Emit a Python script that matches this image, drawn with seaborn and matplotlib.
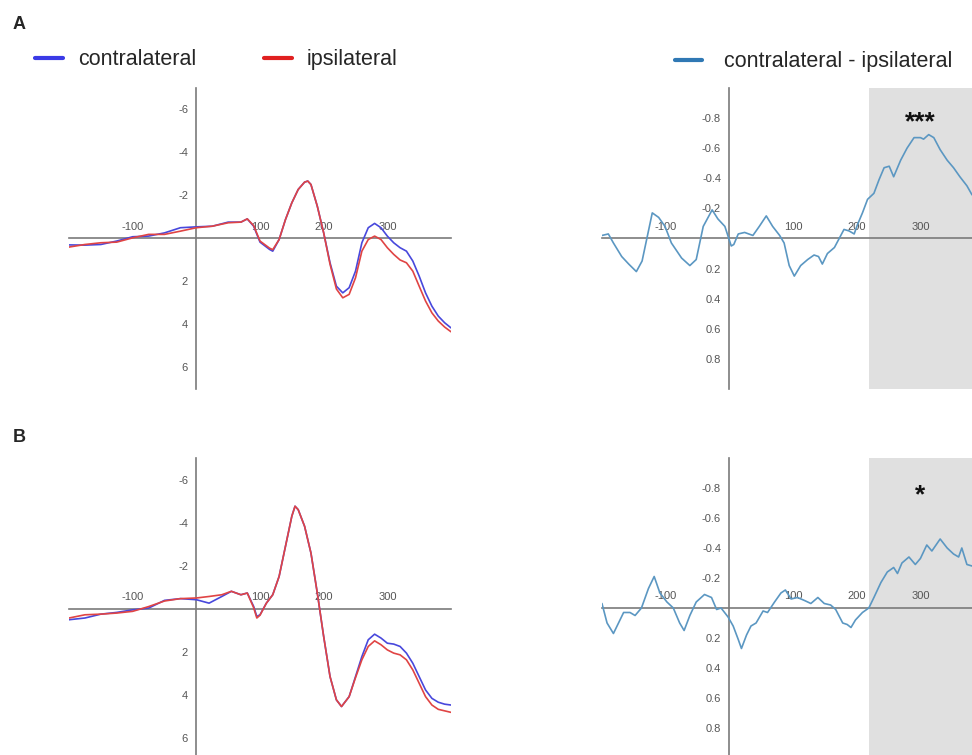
import numpy as np
import matplotlib
matplotlib.use("Agg")
import matplotlib.pyplot as plt
from matplotlib.lines import Line2D
import seaborn as sns

# ---- dados (ms, uV) ----
tempo_A = [-200, -175, -150, -125, -100, -75, -50, -25, 0, 25, 50, 70, 80, 90, 100, 115, 120,
           130, 140, 150, 160, 170, 175, 180, 190, 200, 210, 220, 230, 240, 250, 260, 270,
           280, 290, 300, 310, 320, 330, 340, 350, 360, 370, 380, 390, 400]
contra_A = [0.30, 0.31, 0.28, 0.12, -0.08, -0.11, -0.26, -0.50, -0.54, -0.57, -0.76, -0.76,
            -0.91, -0.57, 0.17, 0.51, 0.59, 0.05, -0.88, -1.66, -2.28, -2.62, -2.67, -2.51,
            -1.50, -0.26, 1.13, 2.22, 2.53, 2.29, 1.52, 0.20, -0.50, -0.70, -0.50, -0.11,
            0.20, 0.43, 0.59, 1.05, 1.75, 2.53, 3.15, 3.61, 3.92, 4.16]
ipsi_A = [0.40, 0.28, 0.20, 0.17, -0.03, -0.19, -0.19, -0.34, -0.50, -0.57, -0.73, -0.76,
          -0.91, -0.60, 0.12, 0.45, 0.52, 0.05, -0.88, -1.66, -2.28, -2.62, -2.67, -2.51,
          -1.50, -0.26, 1.20, 2.35, 2.76, 2.60, 1.83, 0.59, 0.05, -0.11, 0.05, 0.43,
          0.74, 1.00, 1.13, 1.52, 2.22, 2.91, 3.46, 3.84, 4.12, 4.34]

tempo_B = [-200, -175, -150, -125, -100, -75, -50, -25, 0, 20, 40, 55, 70, 80, 90, 95, 100,
           110, 120, 130, 140, 150, 155, 160, 170, 180, 190, 200, 210, 220, 228, 240, 250,
           260, 270, 280, 290, 300, 310, 320, 330, 340, 350, 360, 370, 380, 390, 400]
contra_B = [0.51, 0.43, 0.25, 0.17, 0.05, -0.03, -0.39, -0.47, -0.42, -0.26, -0.57, -0.81,
            -0.65, -0.73, -0.11, 0.36, 0.28, -0.26, -0.65, -1.50, -2.90, -4.30, -4.76, -4.60,
            -3.83, -2.59, -0.73, 1.29, 3.15, 4.23, 4.54, 4.08, 3.15, 2.22, 1.44, 1.18, 1.36,
            1.60, 1.64, 1.75, 2.06, 2.53, 3.15, 3.77, 4.16, 4.34, 4.43, 4.47]
ipsi_B = [0.43, 0.28, 0.25, 0.20, 0.12, -0.10, -0.36, -0.47, -0.50, -0.57, -0.65, -0.81,
          -0.65, -0.73, -0.05, 0.43, 0.30, -0.26, -0.65, -1.50, -2.90, -4.30, -4.76, -4.60,
          -3.83, -2.59, -0.73, 1.29, 3.15, 4.23, 4.54, 4.08, 3.20, 2.37, 1.75, 1.49, 1.67,
          1.91, 2.06, 2.14, 2.37, 2.84, 3.46, 4.08, 4.47, 4.67, 4.74, 4.81]

tempo_difA = [-200, -190, -182, -169, -158, -146, -137, -130, -121, -111, -101, -91, -75, -62,
              -52, -41, -27, -18, -7, 3, 7, 14, 24, 37, 47, 58, 68, 79, 86, 94, 102, 112, 123,
              133, 140, 146, 154, 165, 175, 180, 188, 196, 201, 209, 217, 227, 235, 243, 251,
              258, 269, 279, 290, 300, 305, 313, 321, 331, 342, 352, 362, 373, 381]
dif_A = [-0.02, -0.03, 0.03, 0.12, 0.17, 0.22, 0.15, 0.01, -0.17, -0.14, -0.08, 0.03, 0.13,
         0.18, 0.14, -0.08, -0.19, -0.13, -0.08, 0.05, 0.04, -0.03, -0.04, -0.02, -0.08,
         -0.15, -0.08, -0.02, 0.03, 0.18, 0.25, 0.18, 0.14, 0.11, 0.12, 0.17, 0.10, 0.06,
         -0.02, -0.06, -0.05, -0.03, -0.09, -0.17, -0.26, -0.30, -0.39, -0.47, -0.48, -0.41,
         -0.52, -0.60, -0.67, -0.67, -0.66, -0.69, -0.67, -0.59, -0.52, -0.47, -0.41, -0.35,
         -0.29]

tempo_difB = [-200, -192, -182, -174, -166, -156, -148, -138, -127, -118, -109, -98, -88, -78,
              -71, -62, -52, -39, -28, -20, -13, -2, 6, 14, 19, 27, 34, 42, 53, 60, 71, 81,
              88, 97, 107, 118, 128, 139, 149, 159, 167, 178, 185, 191, 198, 209, 219, 227,
              238, 248, 258, 264, 271, 282, 292, 300, 310, 318, 331, 342, 352, 360, 365, 373,
              381]
dif_B = [-0.03, 0.10, 0.17, 0.10, 0.03, 0.03, 0.05, 0.00, -0.13, -0.21, -0.10, -0.04, 0.00,
         0.10, 0.15, 0.05, -0.04, -0.09, -0.07, 0.01, 0.00, 0.06, 0.12, 0.21, 0.27, 0.18,
         0.12, 0.10, 0.02, 0.03, -0.04, -0.10, -0.12, -0.06, -0.07, -0.05, -0.03, -0.07,
         -0.03, -0.02, 0.01, 0.10, 0.11, 0.13, 0.08, 0.03, 0.00, -0.07, -0.17, -0.24, -0.27,
         -0.23, -0.30, -0.34, -0.29, -0.33, -0.42, -0.38, -0.46, -0.40, -0.36, -0.34, -0.40,
         -0.29, -0.28]

janela_sig = (219, 400)

sns.set_style("white")
plt.rcParams['font.family'] = ['Liberation Sans', 'DejaVu Sans']

cor_contra = "#4848dc"
cor_ipsi = "#e04444"
cor_dif = "#5b97c2"
cinza = "#7a7a7a"

fig = plt.figure(figsize=(9.72, 7.55), dpi=100)

# posições em fração da figura
ax_A1 = fig.add_axes([0.071, 0.4848, 0.393, 0.3987])
ax_A2 = fig.add_axes([0.6193, 0.4848, 0.3807, 0.3987])
ax_B1 = fig.add_axes([0.071, 0.0, 0.393, 0.3934])
ax_B2 = fig.add_axes([0.6193, 0.0, 0.3807, 0.3934])


def estilo(ax, ylim, yticks, xmax):
    for s in ["top", "right"]:
        ax.spines[s].set_visible(False)
    ax.spines["left"].set_position(("data", 0))
    ax.spines["bottom"].set_position(("data", 0))
    for s in ["left", "bottom"]:
        ax.spines[s].set_color(cinza)
        ax.spines[s].set_linewidth(1.2)
        ax.spines[s].set_zorder(3)
    xt = [-200, -100, 0, 100, 200, 300, 400]
    ax.set_xticks(xt)
    ax.set_xticklabels(["", "-100", "", "100", "200", "300", ""])
    ax.set_yticks(yticks)
    ax.set_yticklabels([f"{v:g}" for v in yticks])
    # limites depois dos ticks (set_xticks expande a vista)
    ax.set_xlim(-200, xmax)
    ax.set_ylim(*ylim)
    ax.tick_params(axis="x", direction="out", length=3, width=1, color=cinza,
                   labelsize=8, labelcolor="#555555", pad=-15)
    ax.tick_params(axis="y", direction="out", length=3, width=1, color=cinza,
                   labelsize=8, labelcolor="#555555", pad=3)
    ax.set_xlabel("")
    ax.set_ylabel("")
    ax.patch.set_alpha(0)


for ax, t, c, i, ylim in [(ax_A1, tempo_A, contra_A, ipsi_A, (7, -7)),
                          (ax_B1, tempo_B, contra_B, ipsi_B, (6.79, -7))]:
    sns.lineplot(x=t, y=c, ax=ax, color=cor_contra, lw=1.2, zorder=4)
    sns.lineplot(x=t, y=i, ax=ax, color=cor_ipsi, lw=1.2, zorder=4)
    estilo(ax, ylim, [-6, -4, -2, 2, 4, 6], 400)

for ax, t, d, ylim, estrelas, y_est in [(ax_A2, tempo_difA, dif_A, (1, -1), "***", -0.77),
                                        (ax_B2, tempo_difB, dif_B, (0.98, -1), "*", -0.75)]:
    ax.axvspan(*janela_sig, color="#e0e0e0", zorder=0, lw=0)
    sns.lineplot(x=t, y=d, ax=ax, color=cor_dif, lw=1.2, zorder=4)
    estilo(ax, ylim, [-0.8, -0.6, -0.4, -0.2, 0.2, 0.4, 0.6, 0.8], 381)
    ax.text(300, y_est, estrelas, ha="center", va="center", fontsize=19,
            fontweight="bold", color="#111111")

# legendas
h_contra = Line2D([], [], color="#3a3ae6", lw=3)
h_ipsi = Line2D([], [], color="#e02020", lw=3)
h_dif = Line2D([], [], color="#2f78b4", lw=3)
fig.legend([h_contra, h_ipsi], ["contralateral", "ipsilateral"], loc="center left",
           bbox_to_anchor=(0.016, 0.921), ncol=2, frameon=False, fontsize=15.5,
           handlelength=1.3, handletextpad=0.7, columnspacing=3.15)
fig.legend([h_dif], ["contralateral - ipsilateral"], loc="center left",
           bbox_to_anchor=(0.674, 0.918), frameon=False, fontsize=15.5,
           handlelength=1.3, handletextpad=1.0)

fig.text(0.013, 0.967, "A", fontsize=13, fontweight="bold", va="center")
fig.text(0.013, 0.421, "B", fontsize=13, fontweight="bold", va="center")

fig.savefig("out.png", dpi=100)
